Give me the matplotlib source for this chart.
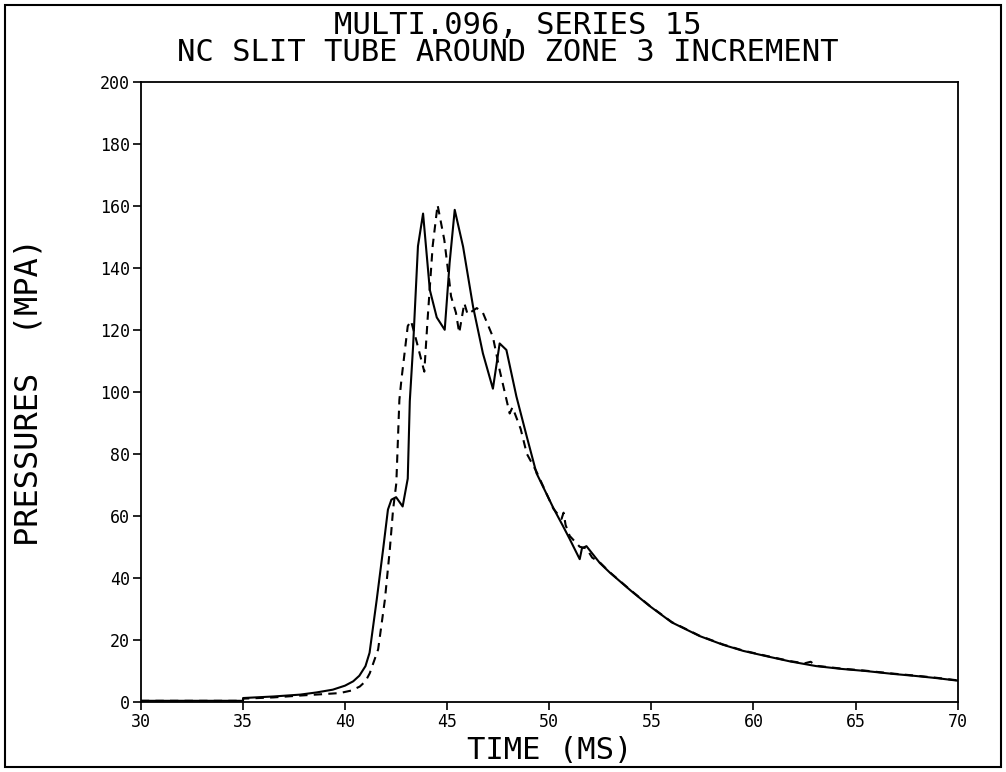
import matplotlib.pyplot as plt
from matplotlib.patches import Rectangle

# time (ms) and pressure (MPa)
t_solid = [30, 35, 35.01, 36.5, 37.8, 38.6, 39.4, 40.0, 40.4, 40.7, 41.0, 41.2,
           41.55, 41.86, 42.1, 42.27, 42.5, 42.82, 43.07, 43.17, 43.33, 43.57,
           43.82, 44.15, 44.49, 44.88, 45.12, 45.37, 45.78, 46.27, 46.75, 47.24,
           47.57, 47.9, 48.39, 48.9, 49.37, 50.2, 50.67, 51.0, 51.49, 51.6,
           51.82, 52.47, 52.96, 54.0, 54.91, 56.0, 57.36, 58.5, 59.5, 60.63,
           61.8, 63.07, 64.3, 65.52, 66.8, 67.97, 69.0, 70]
p_solid = [0.3, 0.3, 1.2, 1.7, 2.3, 3.0, 3.9, 5.2, 6.6, 8.4, 11.5, 15.8,
           32.9, 49.0, 62.0, 65.2, 66.0, 63.0, 72.0, 97.0, 114.5, 147.0,
           157.5, 132.9, 124.0, 120.0, 141.6, 158.7, 146.8, 127.4, 112.4, 101.0,
           115.6, 113.5, 98.5, 85.5, 73.8, 62.5, 56.7, 52.5, 46.0, 49.5,
           50.2, 44.8, 41.7, 35.8, 30.9, 25.6, 21.2, 18.4, 16.4, 14.7,
           13.0, 11.5, 10.6, 9.9, 9.0, 8.3, 7.6, 6.8]

t_dash = [30, 35, 35.01, 36.5, 37.8, 38.8, 39.74, 40.3, 40.72, 41.0, 41.21,
          41.62, 41.95, 42.19, 42.35, 42.51, 42.66, 42.76, 43.07, 43.23, 43.48,
          43.88, 44.04, 44.29, 44.53, 44.86, 45.1, 45.19, 45.43, 45.59, 45.84,
          46.0, 46.45, 46.75, 47.24, 47.57, 48.06, 48.2, 48.6, 48.9, 49.37,
          50.2, 50.6, 50.7, 50.8, 51.0, 51.49, 51.82, 52.1, 52.47, 52.96,
          54.0, 54.91, 56.0, 57.36, 58.5, 59.5, 60.63, 61.8, 62.5, 62.8,
          63.07, 64.3, 65.52, 66.8, 67.97, 69.0, 70]
p_dash = [0.3, 0.3, 1.0, 1.4, 2.0, 2.4, 2.8, 3.6, 4.9, 6.6, 9.2,
          16.9, 32.9, 49.0, 61.9, 70.5, 97.4, 103.9, 121.2, 122.9, 116.8,
          106.5, 123.2, 147.0, 160.3, 149.0, 136.0, 130.8, 125.5, 119.0, 128.6,
          125.0, 127.0, 125.5, 117.7, 107.0, 93.0, 95.0, 88.0, 80.0, 74.3,
          62.3, 59.0, 61.0, 57.0, 53.5, 50.0, 49.5, 46.5, 45.0, 41.8,
          35.9, 31.0, 25.7, 21.3, 18.5, 16.5, 14.8, 13.1, 12.4, 12.9,
          11.6, 10.7, 10.0, 9.1, 8.4, 7.7, 6.9]

x_ticks = [30, 35, 40, 45, 50, 55, 60, 65, 70]
y_ticks = [0, 20, 40, 60, 80, 100, 120, 140, 160, 180, 200]

font = 'DejaVu Sans Mono'

fig = plt.figure(figsize=(10.06, 7.72), dpi=100)
ax = fig.add_axes([0.140, 0.091, 0.812, 0.803])

ax.plot(t_solid, p_solid, color='black', lw=1.5)
ax.plot(t_dash, p_dash, color='black', lw=1.5, dashes=(4, 3))

ax.set_xlim(30, 70)
ax.set_ylim(0, 200)
ax.set_xticks(x_ticks)
ax.set_yticks(y_ticks)
ax.set_xticklabels([str(v) for v in x_ticks], fontfamily=font, fontsize=12)
ax.set_yticklabels([str(v) for v in y_ticks], fontfamily=font, fontsize=12)
ax.tick_params(direction='out', length=6, width=1.2, pad=2)
for s in ax.spines.values():
    s.set_linewidth(1.3)

ax.set_xlabel('TIME (MS)', fontfamily=font, fontsize=22, labelpad=4)
ax.set_ylabel('PRESSURES  (MPA)', fontfamily=font, fontsize=23, labelpad=40)

fig.text(0.515, 0.967, 'MULTI.096, SERIES 15', ha='center', va='center',
         fontfamily=font, fontsize=22)
fig.text(0.505, 0.932, 'NC SLIT TUBE AROUND ZONE 3 INCREMENT', ha='center',
         va='center', fontfamily=font, fontsize=22)

fig.patches.append(Rectangle((0.005, 0.006), 0.99, 0.988, transform=fig.transFigure,
                             fill=False, edgecolor='black', lw=1.5))

fig.savefig('out.png', dpi=100)
